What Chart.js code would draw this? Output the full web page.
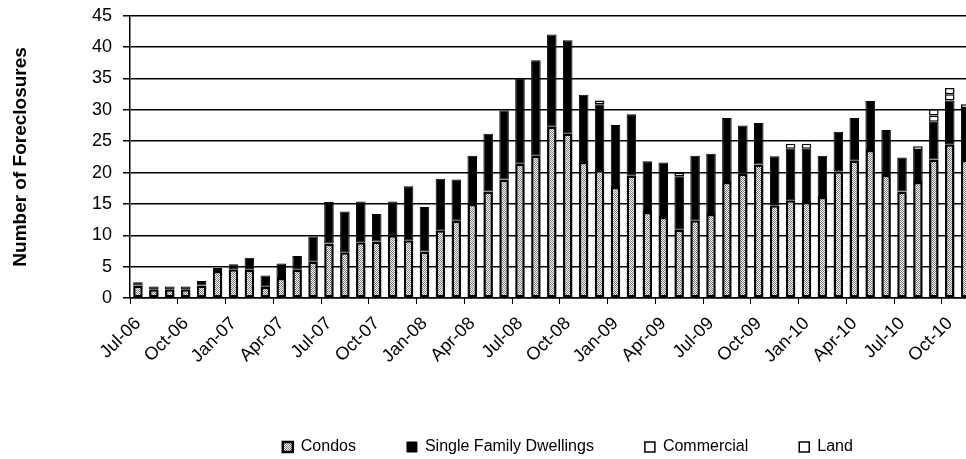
<!DOCTYPE html>
<html>
<head>
<meta charset="utf-8">
<script src="https://cdn.jsdelivr.net/npm/chart.js@4.4.0/dist/chart.umd.min.js"></script>
<style>
  html, body { margin: 0; padding: 0; background: #fff; overflow: hidden; }
  #wrap { width: 990px; height: 459px; overflow: hidden; }
  #chart { display: block; margin-top: -6px; }
</style>
</head>
<body>
<div id="wrap"><canvas id="chart" width="990" height="465"></canvas></div>
<script>
const months = [
  'Jul-06','Aug-06','Sep-06','Oct-06','Nov-06','Dec-06',
  'Jan-07','Feb-07','Mar-07','Apr-07','May-07','Jun-07','Jul-07','Aug-07','Sep-07','Oct-07','Nov-07','Dec-07',
  'Jan-08','Feb-08','Mar-08','Apr-08','May-08','Jun-08','Jul-08','Aug-08','Sep-08','Oct-08','Nov-08','Dec-08',
  'Jan-09','Feb-09','Mar-09','Apr-09','May-09','Jun-09','Jul-09','Aug-09','Sep-09','Oct-09','Nov-09','Dec-09',
  'Jan-10','Feb-10','Mar-10','Apr-10','May-10','Jun-10','Jul-10','Aug-10','Sep-10','Oct-10','Nov-10'
];
const condos = [
  2.0, 1.4, 1.4, 1.4, 2.0, 4.3,
  4.6, 4.5, 1.8, 3.2, 4.5, 5.8, 8.7, 7.3, 8.9, 9.0, 10.0, 9.2,
  7.4, 10.8, 12.3, 15.0, 17.0, 18.9, 21.4, 22.7, 27.3, 26.2, 21.7, 20.4,
  17.7, 19.5, 13.7, 12.9, 10.9, 12.4, 13.4, 18.5, 19.8, 21.3, 14.8, 15.6,
  15.3, 16.1, 20.2, 21.9, 23.6, 19.6, 17.0, 18.5, 22.1, 24.5, 22.0
];
const singleFamily = [
  0.5, 0.45, 0.45, 0.45, 0.7, 0.5,
  0.8, 1.9, 1.8, 2.3, 2.2, 4.0, 6.6, 6.5, 6.5, 4.4, 5.4, 8.6,
  7.1, 8.2, 6.6, 7.7, 9.2, 11.0, 13.6, 15.2, 14.7, 14.9, 10.7, 10.5,
  9.9, 9.8, 8.1, 8.7, 8.5, 10.3, 9.6, 10.2, 7.7, 6.6, 7.8, 8.2,
  8.5, 6.6, 6.3, 6.8, 7.8, 7.2, 5.4, 5.1, 6.0, 7.0, 8.3
];
const commercial = [
  0, 0, 0, 0, 0, 0,
  0, 0, 0, 0, 0, 0, 0, 0, 0, 0, 0, 0,
  0, 0, 0, 0, 0, 0, 0, 0, 0, 0, 0, 0.6,
  0, 0, 0, 0, 0.6, 0, 0, 0, 0, 0, 0, 0.8,
  0.8, 0, 0, 0, 0, 0, 0, 0.6, 1.0, 1.0, 0.6
];
const land = [
  0, 0, 0, 0, 0, 0,
  0, 0, 0, 0, 0, 0, 0, 0, 0, 0, 0, 0,
  0, 0, 0, 0, 0, 0, 0, 0, 0, 0, 0, 0,
  0, 0, 0, 0, 0, 0, 0, 0, 0, 0, 0, 0,
  0, 0, 0, 0, 0, 0, 0, 0, 1.0, 1.0, 0
];
const yTicks = [0, 5, 10, 15, 20, 25, 30, 35, 40, 45];

// dotted grey fill used for the condo bars
function hatch() {
  const c = document.createElement('canvas');
  c.width = 2; c.height = 2;
  const g = c.getContext('2d');
  g.fillStyle = '#ffffff'; g.fillRect(0, 0, 2, 2);
  g.fillStyle = '#7a7a7a'; g.fillRect(0, 0, 1, 1); g.fillRect(1, 1, 1, 1);
  return g.createPattern(c, 'repeat');
}

const font = "'Liberation Sans', Arial, sans-serif";
Chart.defaults.font.family = font;
Chart.defaults.color = '#000';

const bar = { barPercentage: 0.6, categoryPercentage: 1, borderSkipped: false };

// nudge the legend to sit where the original one does
const legendShift = {
  id: 'legendShift',
  afterLayout(chart) {
    chart.legend.left += 16;
    chart.legend.right += 16;
    chart.legend.top += 6;
    chart.legend.bottom += 6;
  }
};

new Chart(document.getElementById('chart'), {
  type: 'bar',
  plugins: [legendShift],
  data: {
    labels: months,
    datasets: [
      Object.assign({ label: 'Condos', data: condos, backgroundColor: hatch(), borderColor: '#000', borderWidth: 2.5 }, bar),
      Object.assign({ label: 'Single Family Dwellings', data: singleFamily, backgroundColor: '#000', borderColor: '#000', borderWidth: 1 }, bar),
      Object.assign({ label: 'Commercial', data: commercial, backgroundColor: '#fff', borderColor: '#000', borderWidth: 1.5 }, bar),
      Object.assign({ label: 'Land', data: land, backgroundColor: '#fff', borderColor: '#000', borderWidth: 1.5 }, bar)
    ]
  },
  options: {
    responsive: false,
    animation: false,
    layout: { padding: { top: 0, right: 5, bottom: 0 } },
    plugins: {
      tooltip: { enabled: false },
      legend: {
        position: 'bottom',
        fullSize: false,
        labels: { boxWidth: 10, boxHeight: 10, padding: 51, font: { size: 16 }, color: '#000' }
      }
    },
    scales: {
      x: {
        stacked: true,
        grid: {
          offset: true,
          drawOnChartArea: false,
          tickLength: 6,
          color: ctx => (ctx.index % 3 === 0 ? '#000' : 'rgba(0,0,0,0)')
        },
        border: { color: '#000', width: 1.5 },
        ticks: {
          autoSkip: false,
          minRotation: 45,
          maxRotation: 45,
          padding: 9,
          font: { size: 18 },
          color: '#000',
          callback: function (v, i) { return i % 3 === 0 ? months[i] : ''; }
        },
        afterFit: s => { s.height = 84; }
      },
      y: {
        stacked: true,
        min: 0,
        max: 45,
        afterBuildTicks: s => { s.ticks = yTicks.map(v => ({ value: v })); },
        grid: { color: '#000', lineWidth: 1.5, tickLength: 7 },
        border: { color: '#000', width: 1.5 },
        ticks: { padding: 11, font: { size: 18 }, color: '#000' },
        title: {
          display: true,
          text: 'Number of Foreclosures',
          font: { size: 19, weight: 'bold' },
          color: '#000',
          padding: { top: 9, bottom: 0 }
        },
        afterFit: s => { s.width = 130; }
      }
    }
  }
});
</script>
</body>
</html>
